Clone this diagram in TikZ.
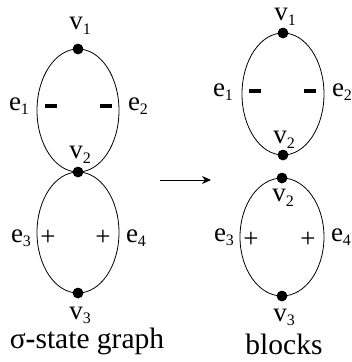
\documentclass[tikz,border=0pt]{standalone}
\usepackage{fontspec}
\setmainfont{Liberation Serif}
\newfontfamily\tnr{Liberation Serif}
\usetikzlibrary{arrows.meta}
\newcommand\sublab[2]{#1\raisebox{-4.5pt}{\fontsize{16}{16}\selectfont #2}}
\tikzset{
  vdot/.style={circle,fill=black,inner sep=0pt,minimum size=10.5pt},
  lab/.style={inner sep=0pt,font=\tnr\fontsize{27}{27}\selectfont},
  captext/.style={inner sep=0pt,text height=19pt,text depth=6pt,font=\tnr\fontsize{29.5}{29.5}\selectfont},
  signmark/.style={inner sep=0pt},
  edgeline/.style={line width=0.8pt},
}
\begin{document}
\begin{tikzpicture}[x=1pt,y=-1pt]
\useasboundingbox (0,0) rectangle (352,362);
% ---- left: sigma-state graph ----
\node[vdot] (L1) at (78,49) {};
\node[vdot] (L2) at (78,172) {};
\node[vdot] (L3) at (78,293) {};
\draw[edgeline] (L1.center) arc[start angle=90,end angle=270,x radius=41pt,y radius=61.5pt];
\draw[edgeline] (L1.center) arc[start angle=90,end angle=-90,x radius=41pt,y radius=61.5pt];
\draw[edgeline] (L2.center) arc[start angle=90,end angle=270,x radius=41pt,y radius=60.5pt];
\draw[edgeline] (L2.center) arc[start angle=90,end angle=-90,x radius=41pt,y radius=60.5pt];
\node[vdot] at (78,49) {};
\node[vdot] at (78,172) {};
\node[vdot] at (78,293) {};
\node[lab] (Lv1) at (80,26) {\sublab{v}{1}};
\node[lab] (Lv2) at (80,155) {\sublab{v}{2}};
\node[lab,anchor=base,text depth=4pt] (Lv3) at (80,319) {\sublab{v}{3}};
\node[lab] (Le1) at (19,106) {\sublab{e}{1}};
\node[lab] (Le2) at (138,106) {\sublab{e}{2}};
\node[lab] (Le3) at (21,238) {\sublab{e}{3}};
\node[lab] (Le4) at (136,238) {\sublab{e}{4}};
\node[signmark] (Lm1) at (51,106) {\rule{12pt}{3.5pt}};
\node[signmark] (Lm2) at (106,106) {\rule{12pt}{3.5pt}};
\node[lab] (Lp1) at (48,238) {+};
\node[lab] (Lp2) at (103,238) {+};
\node[captext,anchor=base] (Lcap) at (87,348.5) {σ\textbf{-}state graph};
% ---- arrow ----
\coordinate (A1) at (160,180);
\coordinate (A2) at (211,180);
\draw[line width=1pt,-{Stealth[length=9pt,width=8pt]}] (A1) -- (A2);
% ---- right: blocks ----
\node[vdot] (R1) at (283,33) {};
\node[vdot] (R2) at (283,155) {};
\node[vdot] (R2b) at (282,178) {};
\node[vdot] (R3) at (282,296) {};
\draw[edgeline] (R1.center) arc[start angle=90,end angle=270,x radius=41pt,y radius=61pt];
\draw[edgeline] (R1.center) arc[start angle=90,end angle=-90,x radius=41pt,y radius=61pt];
\draw[edgeline] (R2b.center) arc[start angle=90,end angle=270,x radius=42pt,y radius=59pt];
\draw[edgeline] (R2b.center) arc[start angle=90,end angle=-90,x radius=42pt,y radius=59pt];
\node[vdot] at (283,33) {};
\node[vdot] at (283,155) {};
\node[vdot] at (282,178) {};
\node[vdot] at (282,296) {};
\node[lab] (Rv1) at (285,17) {\sublab{v}{1}};
\node[lab] (Rv2) at (284,140) {\sublab{v}{2}};
\node[lab] (Rv2b) at (283,198) {\sublab{v}{2}};
\node[lab,anchor=base,text depth=4pt] (Rv3) at (284,321) {\sublab{v}{3}};
\node[lab] (Re1) at (223,92) {\sublab{e}{1}};
\node[lab] (Re2) at (342,92) {\sublab{e}{2}};
\node[lab] (Re3) at (224,237) {\sublab{e}{3}};
\node[lab] (Re4) at (341,237) {\sublab{e}{4}};
\node[signmark] (Rm1) at (255,91) {\rule{12pt}{3.5pt}};
\node[signmark] (Rm2) at (310,91) {\rule{12pt}{3.5pt}};
\node[lab] (Rp1) at (251,240) {+};
\node[lab] (Rp2) at (308,240) {+};
\node[captext,anchor=base] (Rcap) at (284,354) {blocks};
\end{tikzpicture}
\end{document}
